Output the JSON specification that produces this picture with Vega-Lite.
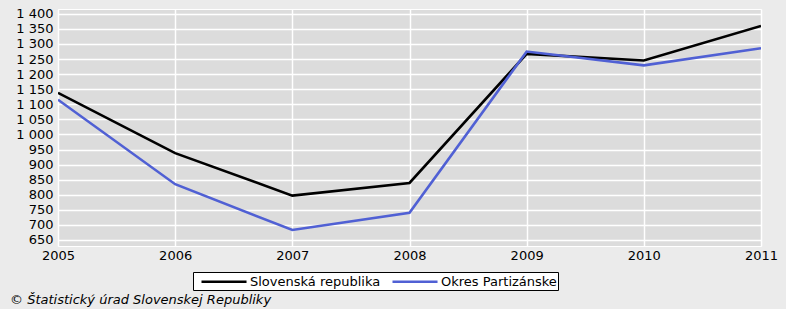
{
  "$schema": "https://vega.github.io/schema/vega-lite/v6.json",
  "width": 703,
  "height": 237,
  "autosize": {"type": "none"},
  "padding": {"left": 58, "top": 9, "right": 25, "bottom": 63},
  "background": "#ebebeb",
  "title": {
    "text": "© Štatistický úrad Slovenskej Republiky",
    "orient": "bottom",
    "anchor": "start",
    "frame": "group",
    "dx": -48,
    "offset": 3,
    "font": "DejaVu Sans",
    "fontSize": 13,
    "fontStyle": "italic",
    "fontWeight": "normal",
    "color": "#000000"
  },
  "config": {
    "view": {"fill": "#dcdcdc", "stroke": "#ffffff", "strokeWidth": 1},
    "font": "DejaVu Sans"
  },
  "data": {
    "values": [
      {"rok": 2005, "seria": "Slovenská republika", "hodnota": 1138},
      {"rok": 2006, "seria": "Slovenská republika", "hodnota": 938},
      {"rok": 2007, "seria": "Slovenská republika", "hodnota": 797},
      {"rok": 2008, "seria": "Slovenská republika", "hodnota": 839},
      {"rok": 2009, "seria": "Slovenská republika", "hodnota": 1267},
      {"rok": 2010, "seria": "Slovenská republika", "hodnota": 1245},
      {"rok": 2011, "seria": "Slovenská republika", "hodnota": 1360},
      {"rok": 2005, "seria": "Okres Partizánske", "hodnota": 1115},
      {"rok": 2006, "seria": "Okres Partizánske", "hodnota": 835},
      {"rok": 2007, "seria": "Okres Partizánske", "hodnota": 683},
      {"rok": 2008, "seria": "Okres Partizánske", "hodnota": 740},
      {"rok": 2009, "seria": "Okres Partizánske", "hodnota": 1275},
      {"rok": 2010, "seria": "Okres Partizánske", "hodnota": 1229},
      {"rok": 2011, "seria": "Okres Partizánske", "hodnota": 1286}
    ]
  },
  "mark": {"type": "line", "strokeWidth": 2.6, "clip": true},
  "encoding": {
    "x": {
      "field": "rok",
      "type": "quantitative",
      "scale": {"domain": [2005, 2011], "nice": false, "zero": false},
      "axis": {
        "title": null,
        "values": [2005, 2006, 2007, 2008, 2009, 2010, 2011],
        "format": "d",
        "grid": true,
        "gridColor": "#ffffff",
        "gridWidth": 1.5,
        "gridOpacity": 1,
        "domain": false,
        "ticks": false,
        "labelFlush": false,
        "labelBound": false,
        "labelOverlap": false,
        "labelPadding": 3,
        "labelFontSize": 13,
        "labelColor": "#000000",
        "labelFont": "DejaVu Sans"
      }
    },
    "y": {
      "field": "hodnota",
      "type": "quantitative",
      "scale": {"domain": [630, 1416], "nice": false, "zero": false},
      "axis": {
        "title": null,
        "values": [650, 700, 750, 800, 850, 900, 950, 1000, 1050, 1100, 1150, 1200, 1250, 1300, 1350, 1400],
        "labelExpr": "replace(format(datum.value, ','), ',', ' ')",
        "grid": true,
        "gridColor": "#ffffff",
        "gridWidth": 1.5,
        "gridOpacity": 1,
        "domain": false,
        "ticks": false,
        "labelOverlap": false,
        "labelPadding": 5,
        "labelFontSize": 13,
        "labelColor": "#000000",
        "labelFont": "DejaVu Sans"
      }
    },
    "color": {
      "field": "seria",
      "type": "nominal",
      "scale": {"domain": ["Slovenská republika", "Okres Partizánske"], "range": ["#000000", "#5060d4"]},
      "legend": {
        "title": null,
        "orient": "none",
        "legendX": 135,
        "legendY": 263,
        "direction": "horizontal",
        "gridAlign": "all",
        "fillColor": "#ffffff",
        "strokeColor": "#000000",
        "padding": 1,
        "symbolType": "M-0.143,0H6.29",
        "symbolSize": 196,
        "symbolStrokeWidth": 2.5,
        "labelFontSize": 13,
        "labelFont": "DejaVu Sans",
        "labelColor": "#000000",
        "columnPadding": 4,
        "labelOffset": 39
      }
    }
  }
}
